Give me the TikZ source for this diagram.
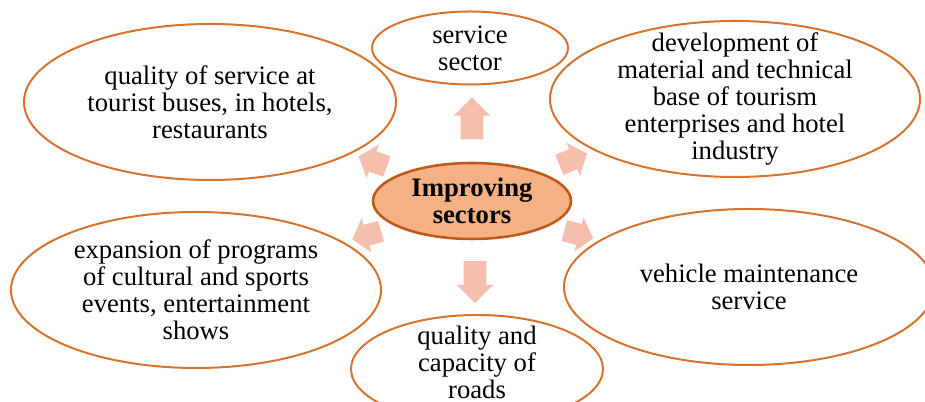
\documentclass[tikz,border=0pt]{standalone}
\usepackage{fontspec}
\setmainfont{Liberation Serif}
\usetikzlibrary{shapes.geometric,shapes.arrows}
\definecolor{ovalline}{HTML}{D5732F}
\definecolor{hubline}{HTML}{C0581A}
\definecolor{hubfill}{HTML}{F4B183}
\definecolor{arrowfill}{HTML}{F5BFAE}
\begin{document}
\begin{tikzpicture}[x=0.75pt,y=0.75pt,
	oval/.style={ellipse,draw=ovalline,line width=1.5pt,inner sep=0pt,outer sep=0pt},
	txt/.style={align=center,inner sep=0pt,font=\fontsize{20}{20.3}\selectfont},
	blkv/.style={single arrow,fill=arrowfill,draw=none,inner xsep=0pt,inner ysep=8.25pt,
		single arrow head extend=5.25pt,minimum height=31.5pt,single arrow tip angle=90},
	blkd/.style={blkv,inner ysep=7.9pt,minimum height=22.5pt,single arrow tip angle=100}]
	\useasboundingbox (0,0) rectangle (925,402);
	% outer sectors
	\node[oval,minimum width=279pt,minimum height=117pt] (quality) at (210,300) {};
	\node[oval,minimum width=147pt,minimum height=54.75pt] (service) at (470,354) {};
	\node[oval,minimum width=277.5pt,minimum height=117pt] (develop) at (735,303) {};
	\node[oval,minimum width=277.5pt,minimum height=117pt] (expand) at (196,112) {};
	\node[oval,minimum width=277.5pt,minimum height=117pt] (vehicle) at (749,115) {};
	\node[oval,minimum width=189pt,minimum height=81pt] (roads) at (477,33) {};
	
	\node[txt] (qualitytxt) at (quality) {quality of service at\\tourist buses, in hotels,\\restaurants};
	\node[txt] (servicetxt) at (service) {service\\sector};
	\node[txt] (developtxt) at (develop) {development of\\material and technical\\base of tourism\\enterprises and hotel\\industry};
	\node[txt] (expandtxt) at (expand) {expansion of programs\\of cultural and sports\\events, entertainment\\shows};
	\node[txt] (vehicletxt) at (vehicle) {vehicle maintenance\\service};
	\node[txt] (roadstxt) at (477,40) {quality and\\capacity of\\roads};
	
	% centre
	\node[oval,draw=hubline,fill=hubfill,line width=1.9pt,minimum width=148.5pt,minimum height=57pt] (hub) at (472,201) {};
	\node[txt,font=\fontsize{20}{20.3}\selectfont\bfseries] (hubtxt) at (hub) {Improving\\sectors};
	
	% block arrows
	\node[blkv,rotate=90] (toservice) at (472,278) {};
	\node[blkv,rotate=-90] (toroads) at (475,125.5) {};
	\node[blkd,rotate=160] (toquality) at (377,239) {};
	\node[blkd,rotate=22] (todevelop) at (569,241) {};
	\node[blkd,rotate=196] (toexpand) at (371,168) {};
	\node[blkd,rotate=-15] (tovehicle) at (574.5,168.7) {};
\end{tikzpicture}
\end{document}
